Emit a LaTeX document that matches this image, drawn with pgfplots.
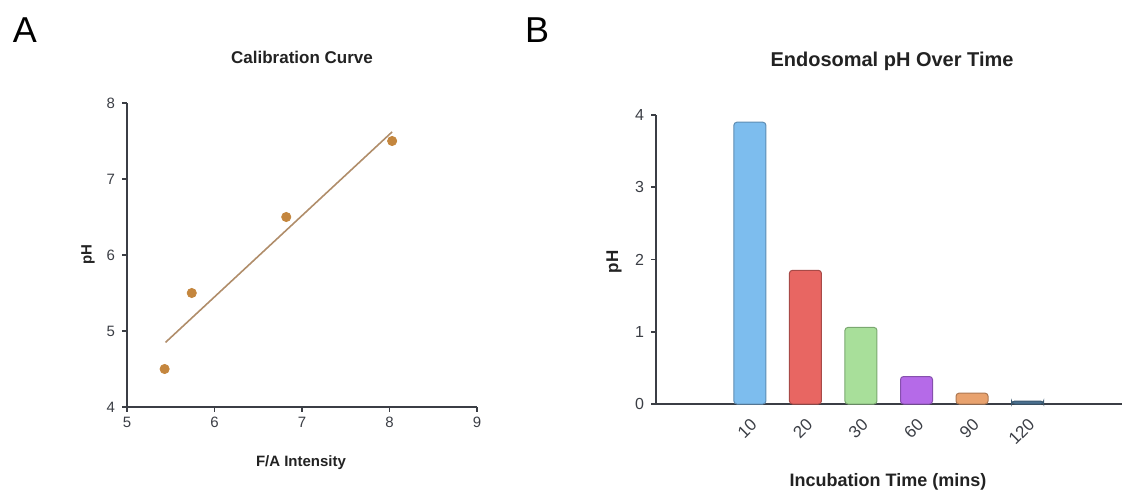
\documentclass[border=0pt]{standalone}
\usepackage{pgfplots}
\pgfplotsset{compat=1.18}
\usepackage{fontspec}
\setmainfont{Liberation Sans}
\definecolor{axisgray}{HTML}{3B3E45}
\definecolor{txt}{HTML}{222222}
\definecolor{ptcol}{HTML}{C4863E}
\definecolor{fitcol}{HTML}{B08D6A}
\definecolor{cA}{HTML}{7DBDEE}\definecolor{cAd}{HTML}{5E8DB3}
\definecolor{cB}{HTML}{E86662}\definecolor{cBd}{HTML}{A84A47}
\definecolor{cC}{HTML}{A8DF9A}\definecolor{cCd}{HTML}{7AA870}
\definecolor{cD}{HTML}{B56AE8}\definecolor{cDd}{HTML}{8650AD}
\definecolor{cE}{HTML}{E8A26E}\definecolor{cEd}{HTML}{AD7852}
\definecolor{cF}{HTML}{4A7090}\definecolor{cFd}{HTML}{3A5870}
\pgfplotstableread{
x y
5.43 4.5
5.74 5.5
6.82 6.5
8.03 7.5
}\calib
\begin{document}
\begin{tikzpicture}
\path[use as bounding box] (0pt,0pt) rectangle (561pt,246pt);
\node[font=\fontsize{18}{20}\selectfont, text=black] at (12.5pt,231pt) {A};
\node[font=\fontsize{18}{20}\selectfont, text=black] at (268.5pt,231pt) {B};
\node[font=\fontsize{8.5}{10}\selectfont\bfseries, text=txt] at (151pt,217.5pt) {Calibration Curve};
\node[font=\fontsize{7.5}{9}\selectfont\bfseries, text=txt, rotate=90] at (44pt,118.5pt) {pH};
\node[font=\fontsize{7.5}{9}\selectfont\bfseries, text=txt] at (150.5pt,14.5pt) {F/A Intensity};
\node[font=\fontsize{10}{12}\selectfont\bfseries, text=txt] at (446pt,215.5pt) {Endosomal pH Over Time};
\node[font=\fontsize{8.5}{10}\selectfont\bfseries, text=txt, rotate=90] at (307pt,115pt) {pH};
\node[font=\fontsize{9}{11}\selectfont\bfseries, text=txt] at (444pt,5pt) {Incubation Time (mins)};

\begin{axis}[
  at={(63.5pt,42.5pt)}, anchor=south west, scale only axis,
  width=175pt, height=152pt,
  xmin=5, xmax=9, ymin=4, ymax=8,
  xtick={5,6,7,8,9}, ytick={4,5,6,7,8},
  axis lines=left,
  axis line style={-, draw=axisgray, line width=0.9pt},
  tick style={draw=axisgray, line width=0.9pt},
  tick align=outside, major tick length=2.5pt,
  tick label style={font=\fontsize{7.5}{9}\selectfont, text=axisgray},
  xticklabel style={yshift=1pt},
  /pgf/number format/assume math mode=true,
  clip=false,
]
\addplot[fitcol, line width=0.8pt] coordinates {(5.44,4.85) (8.03,7.62)};
\addplot[only marks, mark=*, mark size=2.3pt, mark options={fill=ptcol, draw=ptcol}] table[x=x,y=y] {\calib};
\end{axis}

\begin{axis}[
  at={(328pt,44pt)}, anchor=south west, scale only axis,
  width=233pt, height=144.5pt,
  xmin=-1.69, xmax=6.70, ymin=0, ymax=4,
  xtick={0,1,2,3,4,5}, xticklabels={10,20,30,60,90,120},
  ytick={0,1,2,3,4},
  axis lines=left,
  axis line style={-, draw=axisgray, line width=0.9pt},
  ytick style={draw=axisgray, line width=0.9pt},
  xtick style={draw=none},
  tick align=outside, major tick length=2.5pt,
  yticklabel style={font=\fontsize{8}{10}\selectfont, text=axisgray},
  xticklabel style={font=\fontsize{8.5}{10}\selectfont, text=axisgray, xshift=2.8pt, yshift=-5.5pt, rotate=45, anchor=east, inner sep=1pt},
  /pgf/number format/assume math mode=true,
  clip=false,
]
\addplot[ybar, bar shift=0pt, bar width=16pt, fill=cA, draw=cAd, line width=0.5pt, rounded corners=1.5pt] coordinates {(0,3.90)};
\addplot[ybar, bar shift=0pt, bar width=16pt, fill=cB, draw=cBd, line width=0.5pt, rounded corners=1.5pt] coordinates {(1,1.85)};
\addplot[ybar, bar shift=0pt, bar width=16pt, fill=cC, draw=cCd, line width=0.5pt, rounded corners=1.5pt] coordinates {(2,1.06)};
\addplot[ybar, bar shift=0pt, bar width=16pt, fill=cD, draw=cDd, line width=0.5pt, rounded corners=1.5pt] coordinates {(3,0.38)};
\addplot[ybar, bar shift=0pt, bar width=16pt, fill=cE, draw=cEd, line width=0.5pt, rounded corners=1.5pt] coordinates {(4,0.15)};
\addplot[ybar, bar shift=0pt, bar width=16pt, fill=cF, draw=cFd, line width=0.5pt, rounded corners=1.5pt] coordinates {(5,0.04)};
\end{axis}
\end{tikzpicture}
\end{document}
